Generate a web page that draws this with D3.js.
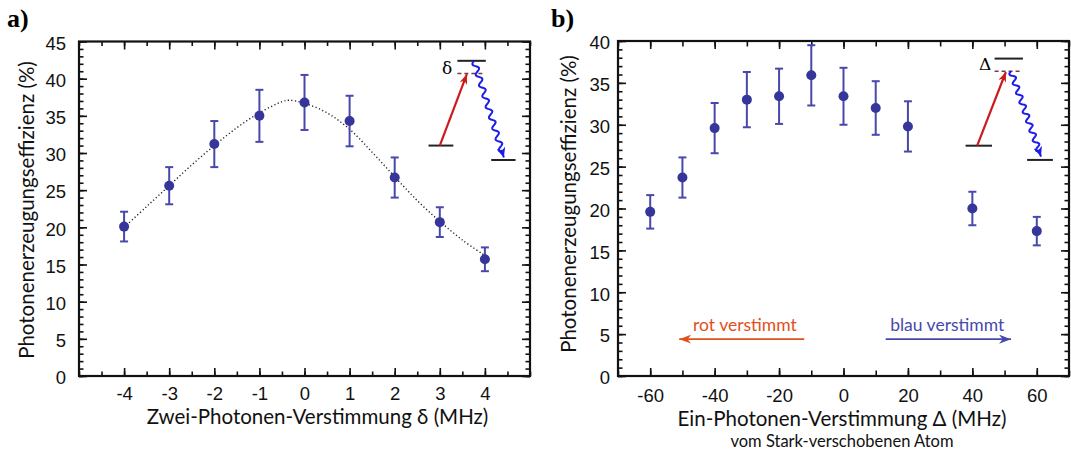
<!DOCTYPE html>
<html lang="de">
<head>
<meta charset="UTF-8">
<title>Photonenerzeugungseffizienz</title>
<script src="https://d3js.org/d3.v7.min.js"></script>
<style>
  body { margin: 0; background: #fff; }
  svg { display: block; font-family: Lato, 'Open Sans', sans-serif; }
  .tick text { font-size: 18.5px; fill: #111; }
  .axis-title { font-size: 20.5px; fill: #111; }
  .sub-title { font-size: 16.5px; fill: #111; }
  .panel-label { font-family: 'Liberation Serif', 'DejaVu Serif', serif; font-weight: bold; font-size: 26px; }
</style>
</head>
<body>
<svg width="1071" height="454"></svg>
<script>
// panel a: two-photon detuning
const deltaA = [-4, -3, -2, -1, 0, 1, 2, 3, 4];
const effA = [20.1, 25.6, 31.2, 35.0, 36.8, 34.3, 26.7, 20.7, 15.7];
const errA = [2.0, 2.5, 3.1, 3.5, 3.7, 3.4, 2.7, 2.0, 1.6];
const fitX = [-4, -3.5, -3, -2.5, -2, -1.5, -1, -0.5, -0.35, 0, 0.5, 1, 1.5, 2, 2.5, 3, 3.5, 4];
const fitY = [20.0, 22.8, 25.6, 28.4, 31.0, 33.4, 35.4, 36.9, 37.1, 36.7, 35.4, 33.2, 30.1, 26.8, 23.6, 20.8, 18.3, 16.2];
const xTicksA = [-4, -3, -2, -1, 0, 1, 2, 3, 4];
const yTicksA = [0, 5, 10, 15, 20, 25, 30, 35, 40, 45];

// panel b: one-photon detuning
const deltaB = [-60, -50, -40, -30, -20, -10, 0, 10, 20, 40, 60];
const effB = [19.6, 23.7, 29.6, 33.0, 33.4, 35.9, 33.4, 32.0, 29.8, 20.0, 17.3];
const errB = [2.0, 2.4, 3.0, 3.3, 3.3, 3.6, 3.4, 3.2, 3.0, 2.0, 1.7];
const xTicksB = [-60, -40, -20, 0, 20, 40, 60];
const yTicksB = [0, 5, 10, 15, 20, 25, 30, 35, 40];

const svg = d3.select('svg');
const ptColor = '#35359a', barColor = '#4848ac';

const defs = svg.append('defs');
function marker(id, color, w, h) {
  defs.append('marker')
    .attr('id', id).attr('viewBox', `0 0 ${w} ${h}`)
    .attr('refX', w).attr('refY', h / 2)
    .attr('markerWidth', w).attr('markerHeight', h)
    .attr('markerUnits', 'userSpaceOnUse').attr('orient', 'auto')
    .append('path').attr('d', `M0,0L${w},${h / 2}L0,${h}L${w * 0.3},${h / 2}Z`).attr('fill', color);
}
marker('redHead', '#cc1b1b', 10, 8);
marker('blueHead', '#1c1ce8', 10, 9);
marker('orangeHead', '#e0501c', 12, 9);
marker('violetHead', '#4848ac', 12, 9);

function wavyPath(p0, p1, amp, waves) {
  const dx = p1[0] - p0[0], dy = p1[1] - p0[1];
  const len = Math.hypot(dx, dy), ux = dx / len, uy = dy / len;
  const pts = d3.range(0, 1.0001, 0.005).map(t => {
    const s = amp * Math.sin(t * waves * 2 * Math.PI) * (t < 0.93 ? 1 : 0);
    return [p0[0] + dx * t - uy * s, p0[1] + dy * t + ux * s];
  });
  return d3.line()(pts);
}

function drawPanel(o) {
  const g = svg.append('g');
  const x = d3.scaleLinear().domain(o.xDomain).range([o.left, o.right]);
  const y = d3.scaleLinear().domain(o.yDomain).range([o.bottom, o.top]);

  const axis = (gen, pos, vals, size, fmt, pad) => g.append('g')
    .attr('transform', pos)
    .call(gen.tickValues(vals).tickSize(-size).tickPadding(pad || 3).tickFormat(fmt || ''))
    .call(s => s.select('.domain').remove())
    .call(s => s.selectAll('.tick line').attr('stroke', '#111').attr('stroke-width', 1.6));

  const xMinor = d3.range(o.xDomain[0], o.xDomain[1] + 1e-9, o.xMinorStep);
  const yMinor = d3.range(o.yDomain[0], o.yDomain[1] + 1e-9, 1);

  axis(d3.axisBottom(x), `translate(0,${o.bottom})`, xMinor, o.xMinorSize);
  axis(d3.axisTop(x), `translate(0,${o.top})`, xMinor, o.xMinorSize);
  axis(d3.axisBottom(x), `translate(0,${o.bottom})`, o.xTicks, 8, d => d, o.xPad);
  axis(d3.axisTop(x), `translate(0,${o.top})`, o.xTicks, 8);
  axis(d3.axisLeft(y), `translate(${o.left},0)`, yMinor, 4.5);
  axis(d3.axisRight(y), `translate(${o.right},0)`, yMinor, 4.5);
  axis(d3.axisLeft(y), `translate(${o.left},0)`, o.yTicks, 8, d => d, o.yPad)
    .selectAll('text').attr('dy', '0.42em');
  axis(d3.axisRight(y), `translate(${o.right},0)`, o.yTicks, 8);

  g.append('rect')
    .attr('x', o.left).attr('y', o.top)
    .attr('width', o.right - o.left).attr('height', o.bottom - o.top)
    .attr('fill', 'none').attr('stroke', '#111').attr('stroke-width', 2.2);

  // titles
  g.append('text').attr('class', 'axis-title')
    .attr('transform', `translate(${o.yTitleX},${o.yTitleY}) rotate(-90)`)
    .attr('text-anchor', 'middle').attr('dy', '0.35em')
    .text('Photonenerzeugungseffizienz (%)');
  g.append('text').attr('class', 'axis-title')
    .attr('x', (o.left + o.right) / 2 + o.xTitleShift).attr('y', o.xTitleY)
    .attr('text-anchor', 'middle').text(o.xTitle);
  g.append('text').attr('class', 'panel-label')
    .attr('x', o.labelX).attr('y', 27).text(o.label);

  return { g, x, y };
}

function drawData(p, xs, ys, es) {
  const data = xs.map((d, i) => ({ x: d, y: ys[i], e: es[i] }));
  const eb = p.g.append('g').attr('stroke', barColor).attr('stroke-width', 2);
  eb.selectAll('.v').data(data).join('line')
    .attr('x1', d => p.x(d.x)).attr('x2', d => p.x(d.x))
    .attr('y1', d => p.y(d.y - d.e)).attr('y2', d => p.y(d.y + d.e));
  [-1, 1].forEach(sgn => {
    eb.selectAll('.c' + sgn).data(data).join('line')
      .attr('x1', d => p.x(d.x) - 4).attr('x2', d => p.x(d.x) + 4)
      .attr('y1', d => p.y(d.y + sgn * d.e)).attr('y2', d => p.y(d.y + sgn * d.e));
  });
  p.g.append('g').selectAll('circle').data(data).join('circle')
    .attr('cx', d => p.x(d.x)).attr('cy', d => p.y(d.y))
    .attr('r', 5).attr('fill', ptColor);
}

function drawLevels(p, lv, sym) {
  const { g, x, y } = p;
  const hl = (x0, x1, yy, dash, color) => g.append('line')
    .attr('x1', x(x0)).attr('x2', x(x1)).attr('y1', y(yy)).attr('y2', y(yy))
    .attr('stroke', color).attr('stroke-width', 2)
    .attr('stroke-dasharray', dash);
  hl(lv.top[0], lv.top[1], lv.top[2], null, '#222');
  hl(lv.dash[0], lv.dash[1], lv.dash[2], '4,3', '#7a3a4c').attr('stroke-width', 1.5);
  hl(lv.g1[0], lv.g1[1], lv.g1[2], null, '#222');
  hl(lv.g2[0], lv.g2[1], lv.g2[2], null, '#222');
  g.append('line')
    .attr('x1', x(lv.red[0])).attr('y1', y(lv.red[1]))
    .attr('x2', x(lv.red[2])).attr('y2', y(lv.red[3]))
    .attr('stroke', '#cc1b1b').attr('stroke-width', 2.2)
    .attr('marker-end', 'url(#redHead)');
  g.append('path')
    .attr('d', wavyPath([x(lv.blue[0]), y(lv.blue[1])], [x(lv.blue[2]), y(lv.blue[3])], 2.6, lv.waves))
    .attr('fill', 'none').attr('stroke', '#1c1ce8').attr('stroke-width', 2)
    .attr('marker-end', 'url(#blueHead)');
  g.append('text').attr('x', x(lv.sym[0])).attr('y', y(lv.sym[1]))
    .attr('text-anchor', 'middle').attr('dy', '0.35em')
    .attr('font-family', "'DejaVu Serif', serif").attr('font-size', 17)
    .text(sym);
}

// ---- panel a
const pa = drawPanel({
  left: 79, right: 530, top: 41.5, bottom: 376,
  xDomain: [-5, 5], yDomain: [0, 45], xMinorStep: 0.5, xMinorSize: 4.5,
  xTicks: xTicksA, yTicks: yTicksA, xPad: 11, yPad: 13,
  yTitleX: 27, yTitleY: 210, xTitleY: 424, xTitleShift: 13,
  xTitle: 'Zwei-Photonen-Verstimmung δ (MHz)', label: 'a)', labelX: 7
});
pa.g.append('path')
  .datum(fitX.map((d, i) => [d, fitY[i]]))
  .attr('d', d3.line().x(d => pa.x(d[0])).y(d => pa.y(d[1])).curve(d3.curveCatmullRom))
  .attr('fill', 'none').attr('stroke', '#222').attr('stroke-width', 1.4)
  .attr('stroke-dasharray', '1.2,2.4');
drawData(pa, deltaA, effA, errA);
drawLevels(pa, {
  top: [3.39, 4.02, 42.4], dash: [3.39, 4.0, 40.7],
  g1: [2.75, 3.3, 31.0], g2: [4.14, 4.68, 29.06],
  red: [3.0, 31.0, 3.6, 40.6], blue: [3.76, 42.4, 4.42, 29.4], waves: 9,
  sym: [3.16, 41.4]
}, 'δ');

// ---- panel b
const pb = drawPanel({
  left: 618, right: 1069, top: 41, bottom: 376,
  xDomain: [-70, 70], yDomain: [0, 40], xMinorStep: 10, xMinorSize: 5.5,
  xTicks: xTicksB, yTicks: yTicksB, xPad: 13, yPad: 8,
  yTitleX: 569, yTitleY: 204, xTitleY: 426, xTitleShift: -1.5,
  xTitle: 'Ein-Photonen-Verstimmung Δ (MHz)', label: 'b)', labelX: 551
});
pb.g.append('text').attr('class', 'sub-title')
  .attr('x', 842).attr('y', 446.5).attr('text-anchor', 'middle')
  .text('vom Stark-verschobenen Atom');
drawData(pb, deltaB, effB, errB);
drawLevels(pb, {
  top: [46.9, 55.7, 37.9], dash: [46.9, 55.2, 36.4],
  g1: [37.9, 46.1, 27.5], g2: [57.0, 65.0, 25.8],
  red: [41.5, 27.5, 50.4, 36.3], blue: [52.0, 36.4, 61.3, 26.2], waves: 9,
  sym: [44.0, 37.3]
}, 'Δ');

// detuning direction arrows
pb.g.append('line')
  .attr('x1', pb.x(-12.2)).attr('x2', pb.x(-51)).attr('y1', pb.y(4.4)).attr('y2', pb.y(4.4))
  .attr('stroke', '#e0501c').attr('stroke-width', 1.8).attr('marker-end', 'url(#orangeHead)');
pb.g.append('text').attr('x', pb.x(-30.6)).attr('y', pb.y(5.35))
  .attr('text-anchor', 'middle').attr('font-size', 17.5).attr('fill', '#e0501c')
  .text('rot verstimmt');
pb.g.append('line')
  .attr('x1', pb.x(13.1)).attr('x2', pb.x(52)).attr('y1', pb.y(4.4)).attr('y2', pb.y(4.4))
  .attr('stroke', '#4848ac').attr('stroke-width', 1.8).attr('marker-end', 'url(#violetHead)');
pb.g.append('text').attr('x', pb.x(32.2)).attr('y', pb.y(5.35))
  .attr('text-anchor', 'middle').attr('font-size', 17.5).attr('fill', '#4848ac')
  .text('blau verstimmt');
</script>
</body>
</html>
